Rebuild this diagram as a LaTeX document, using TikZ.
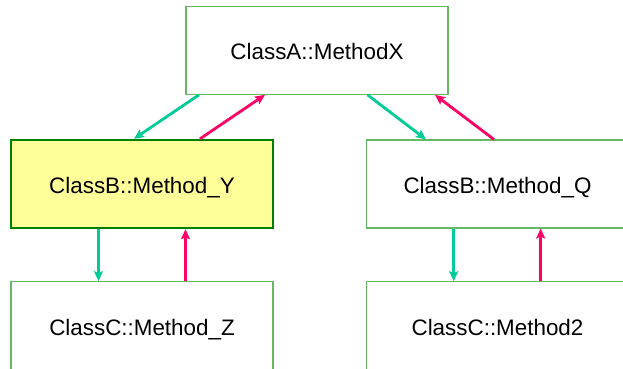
\documentclass[tikz,border=0pt]{standalone}
\usepackage{fontspec}
\setmainfont{Liberation Sans}
\usetikzlibrary{arrows.meta,calc}
\definecolor{callgreen}{HTML}{00CC99}
\definecolor{retred}{HTML}{FF0066}
\definecolor{boxline}{HTML}{66B866}
\definecolor{activeline}{HTML}{008000}
\definecolor{activefill}{HTML}{FFFF99}
\begin{document}
\begin{tikzpicture}[x=1pt,y=-1pt,
  method/.style={draw=boxline,line width=1.1pt,fill=white,minimum width=262pt,
    minimum height=88pt,inner sep=0pt,text height=19pt,text depth=0pt,
    font=\fontsize{22.4}{27}\selectfont},
  active/.style={method,draw=activeline,line width=2.4pt,fill=activefill},
  call/.style={draw=callgreen,line width=2.8pt,-{Stealth[length=10pt,width=9pt,inset=2pt]}},
  ret/.style={draw=retred,line width=2.8pt,-{Stealth[length=10pt,width=9pt,inset=2pt]}}]
\useasboundingbox (0,0) rectangle (623,368);
\clip (0,0) rectangle (623,368);

% call tree
\node[method] (a)  at (317,50.3)  {ClassA::MethodX};
\node[active] (by) at (142,184)   {ClassB::Method\_Y};
\node[method] (bq) at (497.5,184) {ClassB::Method\_Q};
\node[method] (cz) at (142,325.7) {ClassC::Method\_Z};
\node[method] (c2) at (497.5,325.7) {ClassC::Method2};

% calls and returns between the upper levels
\draw[call] ($(a.south)+(-118,0)$) -- ($(by.north)+(-8,0)$);
\draw[ret]  ($(by.north)+(58,0)$) -- ($(a.south)+(-52,0)$);
\draw[call] ($(a.south)+(50.5,0)$) -- ($(bq.north)+(-71.5,0)$);
\draw[ret]  ($(bq.north)+(-3.5,0)$) -- ($(a.south)+(118,0)$);

% calls and returns to the lowest level
\draw[call] ($(by.south)+(-43.5,0)$) -- ($(cz.north)+(-43.5,0)$);
\draw[ret]  ($(cz.north)+(43.5,0)$) -- ($(by.south)+(43.5,0)$);
\draw[call] ($(bq.south)+(-43.8,0)$) -- ($(c2.north)+(-43.8,0)$);
\draw[ret]  ($(c2.north)+(43.2,0)$) -- ($(bq.south)+(43.2,0)$);
\end{tikzpicture}
\end{document}
